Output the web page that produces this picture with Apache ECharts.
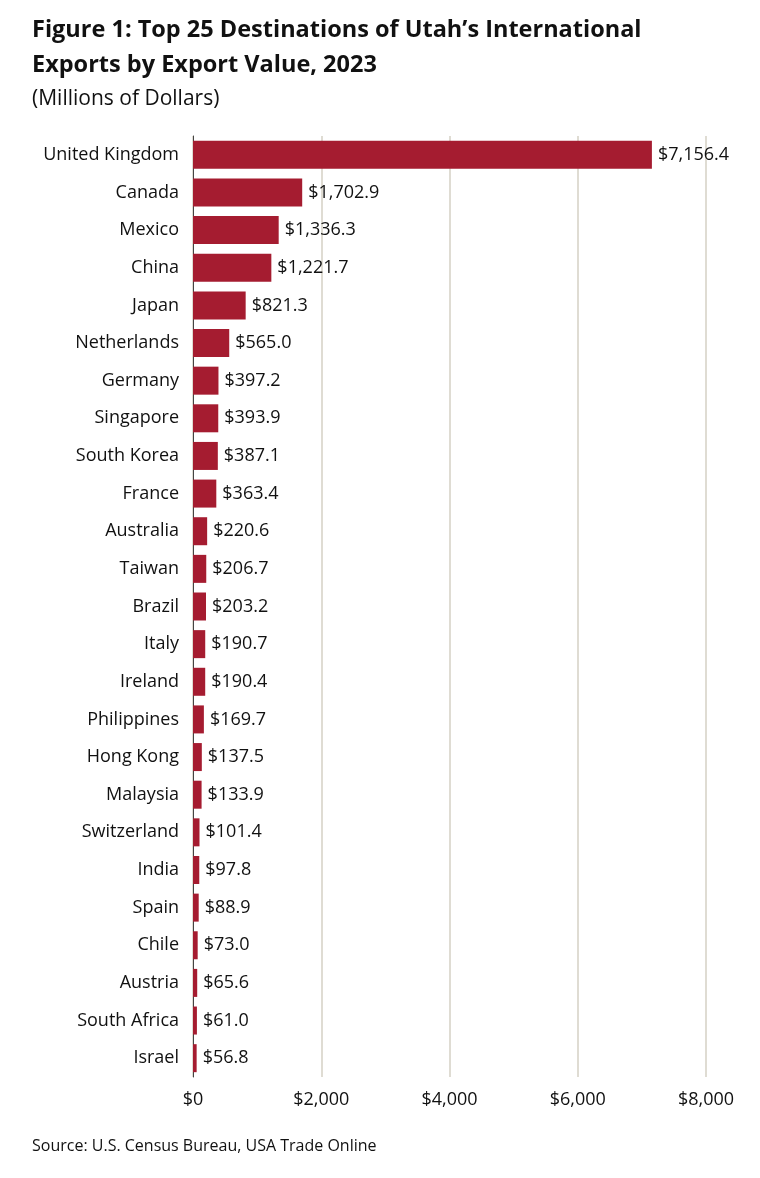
<!DOCTYPE html>
<html><head><meta charset="utf-8">
<script src="https://cdn.jsdelivr.net/npm/echarts@6/dist/echarts.min.js"></script>
<style>html,body{margin:0;background:#fff}#c{width:760px;height:1178px}</style>
</head><body><div id="c"></div>
<script>
const categories=["United Kingdom","Canada","Mexico","China","Japan","Netherlands","Germany","Singapore","South Korea","France","Australia","Taiwan","Brazil","Italy","Ireland","Philippines","Hong Kong","Malaysia","Switzerland","India","Spain","Chile","Austria","South Africa","Israel"];
const values=[7156.4,1702.9,1336.3,1221.7,821.3,565.0,397.2,393.9,387.1,363.4,220.6,206.7,203.2,190.7,190.4,169.7,137.5,133.9,101.4,97.8,88.9,73.0,65.6,61.0,56.8];
const fmt=v=>'$'+v.toLocaleString('en-US',{minimumFractionDigits:0,maximumFractionDigits:1});
const fmt1=v=>'$'+v.toLocaleString('en-US',{minimumFractionDigits:1,maximumFractionDigits:1});
const F='"Open Sans", sans-serif';
const chart=echarts.init(document.getElementById('c'));
chart.setOption({
  animation:false,
  graphic:[
    {type:'text',left:32,top:13,style:{text:'Figure 1: Top 25 Destinations of Utah’s International\nExports by Export Value, 2023',font:'bold 23.5px "Open Sans", sans-serif',fill:'#111',lineHeight:35}},
    {type:'text',left:32,top:89,style:{text:'(Millions of Dollars)',font:'21px "Open Sans", sans-serif',fill:'#111'}},
    {type:'text',left:32,top:1138,style:{text:'Source: U.S. Census Bureau, USA Trade Online',font:'16px "Open Sans", sans-serif',fill:'#111'}}
  ],
  grid:{left:193,right:54,top:136,bottom:101,containLabel:false},
  xAxis:{type:'value',min:0,max:8000,interval:2000,
    axisLabel:{formatter:v=>fmt(v),fontFamily:F,fontSize:18,color:'#111',margin:14},
    splitLine:{lineStyle:{color:'#d4d0c4',width:1.5}},axisLine:{show:false},axisTick:{show:false}},
  yAxis:{type:'category',inverse:true,data:categories,
    axisLabel:{fontFamily:F,fontSize:18,color:'#111',margin:14},
    axisLine:{lineStyle:{color:'#444'}},axisTick:{show:false}},
  series:[{type:'bar',data:values,barWidth:28,itemStyle:{color:'#a51c30'},
    label:{show:true,position:'right',formatter:p=>fmt1(p.value),fontFamily:F,fontSize:18,color:'#111',distance:6}}]
});
</script></body></html>
